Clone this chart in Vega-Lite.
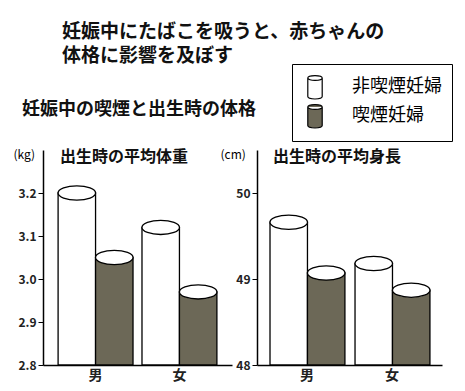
{
  "$schema": "https://vega.github.io/schema/vega-lite/v6.json",
  "background": "white",
  "padding": {"left": 13, "top": 22, "right": 5, "bottom": 5},
  "config": {
    "font": "Noto Sans CJK JP",
    "view": {"stroke": null},
    "axis": {"domainColor": "black", "tickColor": "black", "labelColor": "#222", "grid": false, "labelFont": "Noto Sans CJK JP", "titleFont": "Noto Sans CJK JP"},
    "title": {"color": "#111", "font": "Noto Sans CJK JP"}
  },
  "title": {
    "text": ["妊娠中にたばこを吸うと、赤ちゃんの", "体格に影響を及ぼす"],
    "anchor": "start", "fontSize": 19, "fontWeight": "bold", "lineHeight": 24, "dx": 49, "offset": -2
  },
  "vconcat": [
    {
      "title": {"text": "妊娠中の喫煙と出生時の体格", "anchor": "start", "fontSize": 18, "fontWeight": "bold", "dx": 9, "offset": 29},
      "bounds": "flush",
      "spacing": 25,
      "hconcat": [
        {
          "width": 189, "height": 215,
          "data": {"values": [
            {"sex": "男", "group": "非喫煙妊婦", "value": 3.20},
            {"sex": "男", "group": "喫煙妊婦", "value": 3.05},
            {"sex": "女", "group": "非喫煙妊婦", "value": 3.12},
            {"sex": "女", "group": "喫煙妊婦", "value": 2.97}
          ]},
          "title": {"text": "出生時の平均体重", "anchor": "start", "frame": "group", "dx": 17, "offset": -17, "fontSize": 16, "fontWeight": "bold"},
          "encoding": {
            "x": {"field": "sex", "type": "nominal", "sort": ["男", "女"], "scale": {"paddingInner": 0.107, "paddingOuter": 0.18},
              "axis": {"title": null, "labelAngle": 0, "ticks": false, "labelFontSize": 14, "labelFontWeight": "bold", "labelPadding": 3, "domainWidth": 1.5}},
            "xOffset": {"field": "group", "type": "nominal", "sort": ["非喫煙妊婦", "喫煙妊婦"], "scale": {"paddingInner": 0, "paddingOuter": 0}},
            "y": {"field": "value", "type": "quantitative", "scale": {"domain": [2.8, 3.3], "zero": false, "nice": false},
              "axis": {"values": [2.8, 2.9, 3.0, 3.1, 3.2], "format": ".1f", "title": "(kg)", "tickSize": 5, "domainWidth": 1.5, "labelFontSize": 12, "labelFontWeight": "bold", "labelPadding": 2,
                "titleAngle": 0, "titleX": -30, "titleY": 4, "titleAlign": "left", "titleBaseline": "middle", "titleFontSize": 12, "titleFontWeight": "normal"}}
          },
          "layer": [
            {"mark": {"type": "bar", "stroke": "black", "strokeWidth": 1.3},
             "encoding": {
               "y2": {"datum": 2.8},
               "fill": {"field": "group", "type": "nominal",
               "scale": {"domain": ["非喫煙妊婦", "喫煙妊婦"], "range": ["#ffffff", "#6c6857"]},
               "legend": {"title": null, "orient": "none", "legendX": 249, "legendY": -86,
                 "symbolType": "M-0.6,-0.75A0.6,0.2 0 0,1 0.6,-0.75L0.6,0.8A0.6,0.2 0 0,1 -0.6,0.8Z M-0.6,-0.75A0.6,0.2 0 0,0 0.6,-0.75",
                 "symbolSize": 576, "symbolStrokeColor": "black", "symbolStrokeWidth": 1.2,
                 "labelFontSize": 18, "labelFont": "Noto Sans CJK JP", "labelColor": "black", "labelOffset": 24, "labelLimit": 200,
                 "padding": 10, "strokeColor": "black", "fillColor": "white", "rowPadding": 0}}}},
            {"mark": {"type": "point", "shape": "M-1,0A1,0.38 0 1,1 1,0A1,0.38 0 1,1 -1,0Z", "size": 1406, "filled": true, "fill": "white", "stroke": "black", "strokeWidth": 1.3, "opacity": 1}}
          ]
        },
        {
          "width": 185, "height": 215,
          "data": {"values": [
            {"sex": "男", "group": "非喫煙妊婦", "value": 49.66},
            {"sex": "男", "group": "喫煙妊婦", "value": 49.07},
            {"sex": "女", "group": "非喫煙妊婦", "value": 49.18},
            {"sex": "女", "group": "喫煙妊婦", "value": 48.87}
          ]},
          "title": {"text": "出生時の平均身長", "anchor": "start", "frame": "group", "dx": 16, "offset": -17, "fontSize": 16, "fontWeight": "bold"},
          "encoding": {
            "x": {"field": "sex", "type": "nominal", "sort": ["男", "女"], "scale": {"paddingInner": 0.13, "paddingOuter": 0.153},
              "axis": {"title": null, "labelAngle": 0, "ticks": false, "labelFontSize": 14, "labelFontWeight": "bold", "labelPadding": 3, "domainWidth": 1.5}},
            "xOffset": {"field": "group", "type": "nominal", "sort": ["非喫煙妊婦", "喫煙妊婦"], "scale": {"paddingInner": 0, "paddingOuter": 0}},
            "y": {"field": "value", "type": "quantitative", "scale": {"domain": [48, 50.5], "zero": false, "nice": false},
              "axis": {"values": [48, 49, 50], "format": "d", "title": "(cm)", "tickSize": 5, "domainWidth": 1.5, "labelFontSize": 12, "labelFontWeight": "bold", "labelPadding": 2,
                "titleAngle": 0, "titleX": -37, "titleY": 4, "titleAlign": "left", "titleBaseline": "middle", "titleFontSize": 12, "titleFontWeight": "normal"}}
          },
          "layer": [
            {"mark": {"type": "bar", "stroke": "black", "strokeWidth": 1.3},
             "encoding": {
               "y2": {"datum": 48},
               "fill": {"field": "group", "type": "nominal",
               "scale": {"domain": ["非喫煙妊婦", "喫煙妊婦"], "range": ["#ffffff", "#6c6857"]},
               "legend": {"title": null, "orient": "none", "legendX": 249, "legendY": -86,
                 "symbolType": "M-0.6,-0.75A0.6,0.2 0 0,1 0.6,-0.75L0.6,0.8A0.6,0.2 0 0,1 -0.6,0.8Z M-0.6,-0.75A0.6,0.2 0 0,0 0.6,-0.75",
                 "symbolSize": 576, "symbolStrokeColor": "black", "symbolStrokeWidth": 1.2,
                 "labelFontSize": 18, "labelFont": "Noto Sans CJK JP", "labelColor": "black", "labelOffset": 24, "labelLimit": 200,
                 "padding": 10, "strokeColor": "black", "fillColor": "white", "rowPadding": 0}}}},
            {"mark": {"type": "point", "shape": "M-1,0A1,0.38 0 1,1 1,0A1,0.38 0 1,1 -1,0Z", "size": 1406, "filled": true, "fill": "white", "stroke": "black", "strokeWidth": 1.3, "opacity": 1}}
          ]
        }
      ]
    }
  ]
}
